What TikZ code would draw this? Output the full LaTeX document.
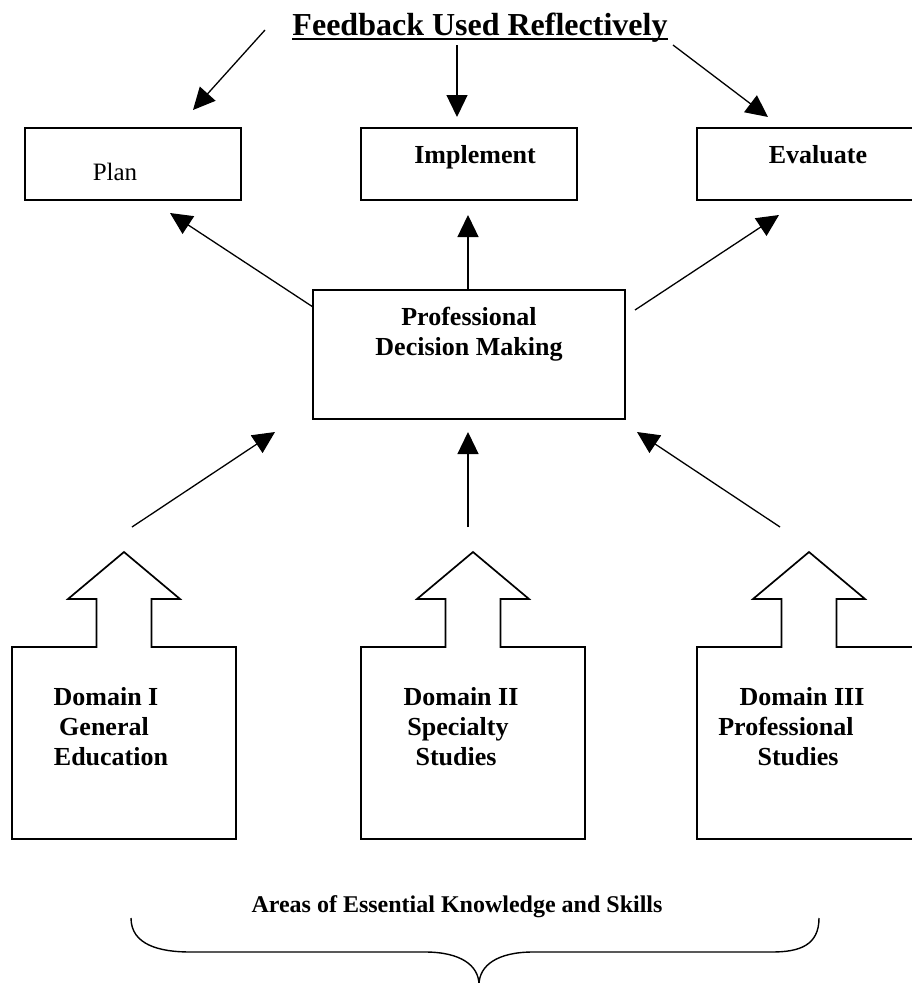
\documentclass[tikz,border=0pt]{standalone}
\usepackage{fontspec}
\setmainfont{Liberation Serif}
\usetikzlibrary{arrows.meta}
\begin{document}
\begin{tikzpicture}[x=1pt,y=-1pt,
  box/.style={draw, line width=1.7pt, minimum width=216pt, minimum height=72pt, inner sep=0pt},
  lbl/.style={font=\fontsize{26}{30}\selectfont\bfseries, inner sep=0pt, anchor=base},
  arr/.style={line width=1.3pt, -{Triangle[length=22pt,width=21pt]}},
  domarrow/.pic={\draw[line width=1.7pt, line join=miter]
     (-112,287) -- (-112,95) -- (-27.5,95) -- (-27.5,47) -- (-56,47) -- (0,0)
     -- (56,47) -- (27.5,47) -- (27.5,95) -- (112,95) -- (112,287) -- cycle;}
]
\useasboundingbox (0,0) rectangle (912,983);
\clip (0,0) rectangle (912,983);

% title
\node[font=\fontsize{32}{38}\selectfont\bfseries, inner sep=0pt, anchor=base] (title) at (480,35) {Feedback Used Reflectively};
\draw[line width=1.8pt] ([yshift=-4pt]title.base west) -- ([yshift=-4pt]title.base east);

% top boxes
\node[box] (plan) at (133,164) {};
\node[box] (impl) at (469,164) {};
\node[box] (eval) at (805,164) {};
\node[font=\fontsize{25}{30}\selectfont, inner sep=0pt, anchor=base] (plantxt) at (115,180) {Plan};
\node[lbl] (impltxt) at (475,163) {Implement};
\node[lbl] (evaltxt) at (818,163) {Evaluate};

% central box
\node[draw, line width=1.7pt, minimum width=312pt, minimum height=129pt, inner sep=0pt] (pdm) at (469,354.5) {};
\node[lbl] (pdm1) at (469,325) {Professional};
\node[lbl] (pdm2) at (469,355) {Decision Making};

% domain shapes
\pic (dom1) at (124,552) {domarrow};
\pic (dom2) at (473,552) {domarrow};
\pic (dom3) at (809,552) {domarrow};
\node[lbl] (d1a) at (106,705) {Domain I};
\node[lbl] (d1b) at (104,735) {General};
\node[lbl] (d1c) at (111,765) {Education};
\node[lbl] (d2a) at (461,705) {Domain II};
\node[lbl] (d2b) at (458,735) {Specialty};
\node[lbl] (d2c) at (456,765) {Studies};
\node[lbl] (d3a) at (802,705) {Domain III};
\node[lbl] (d3b) at (786,735) {Professional};
\node[lbl] (d3c) at (798,765) {Studies};

% arrow end points
\coordinate (tL) at (265,30);  \coordinate (pL) at (193,110);
\coordinate (tM) at (457,45);  \coordinate (pM) at (457,117);
\coordinate (tR) at (673,45);  \coordinate (pR) at (768,117);
\coordinate (cL) at (313,307); \coordinate (uL) at (170,213);
\coordinate (cM) at (468,290); \coordinate (uM) at (468,215);
\coordinate (cR) at (635,310); \coordinate (uR) at (779,215);
\coordinate (bL) at (132,527); \coordinate (qL) at (275,432);
\coordinate (bM) at (468,527); \coordinate (qM) at (468,432);
\coordinate (bR) at (780,527); \coordinate (qR) at (637,432);

\draw[arr] (tL) -- (pL);
\draw[arr] (tM) -- (pM);
\draw[arr] (tR) -- (pR);
\draw[arr] (cL) -- (uL);
\draw[arr] (cM) -- (uM);
\draw[arr] (cR) -- (uR);
\draw[arr] (bL) -- (qL);
\draw[arr] (bM) -- (qM);
\draw[arr] (bR) -- (qR);

% bottom label and brace
\node[font=\fontsize{24}{28}\selectfont\bfseries, inner sep=0pt, anchor=base] (areas) at (457,912) {Areas of Essential Knowledge and Skills};
\coordinate (brL) at (131,918);
\coordinate (brT) at (479,985);
\coordinate (brR) at (819,918);
\draw[line width=1.4pt] (brL) .. controls (131,945) and (160,952) .. (190,952) -- (425,952)
  .. controls (460,952) and (479,965) .. (brT)
  .. controls (479,965) and (498,952) .. (533,952) -- (772,952)
  .. controls (800,952) and (819,945) .. (brR);
\end{tikzpicture}
\end{document}
